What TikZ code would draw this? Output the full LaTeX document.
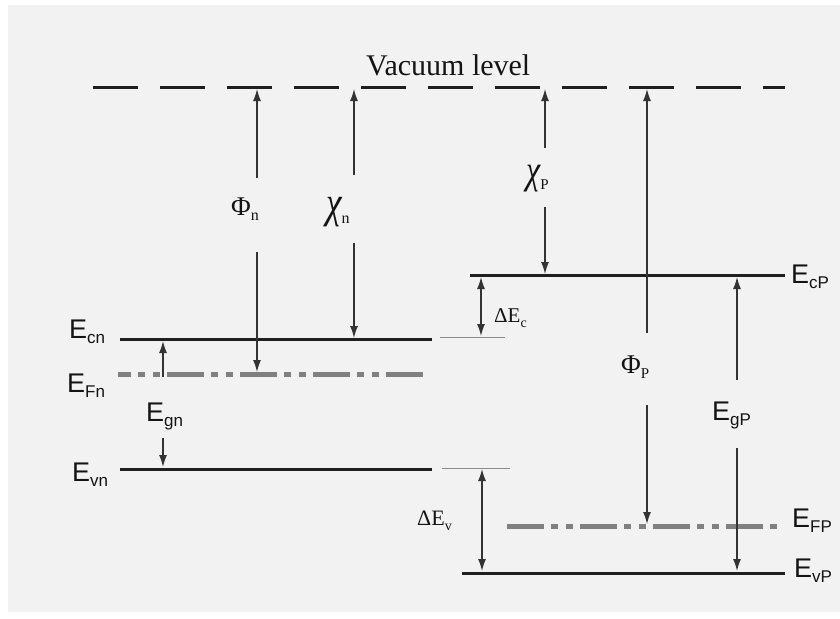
\documentclass[tikz,border=0pt]{standalone}
\usepackage{fontspec}
\setmainfont{Liberation Serif}
\newfontfamily\sansE{Liberation Sans}
\usetikzlibrary{arrows.meta}
\newcommand\Elab[1]{{\sansE\fontsize{27}{27}\selectfont E}\raisebox{-5pt}{\sansE\fontsize{17}{17}\selectfont #1}}
\newcommand\Glab[4]{{\fontsize{#1}{#1}\selectfont #2}\raisebox{-5pt}{\fontsize{#3}{#3}\selectfont #4}}
\newcommand\Chilab[3]{\scalebox{0.8}[1]{\fontsize{#1}{#1}\selectfont\itshape χ}\raisebox{-6pt}{\fontsize{#2}{#2}\selectfont #3}}
\begin{document}
\begin{tikzpicture}[x=1pt,y=-1pt,
  level/.style={line width=3pt, draw=black!88},
  fermi/.style={line width=5pt, draw=black!50, dash pattern=on 37pt off 7pt on 7pt off 8pt on 7pt off 7pt},
  ext/.style={line width=1pt, draw=black!45},
  arr/.style={line width=1.3pt, draw=black!80, -{Latex[length=12pt,width=8pt]}},
  darr/.style={line width=1.3pt, draw=black!80, {Latex[length=12pt,width=8pt]}-{Latex[length=12pt,width=8pt]}},
  lab/.style={inner sep=0pt, anchor=base west, text=black!92},
]
\useasboundingbox (0,0) rectangle (840,618);
\fill[white] (0,0) rectangle (840,618);
\fill[black!5] (8,5) rectangle (840,612);

% vacuum level
\coordinate (vacL) at (93,87);
\coordinate (vacR) at (785,87);
\draw[line width=3pt, draw=black!88, dash pattern=on 45pt off 22pt] (vacL) -- (vacR);
\node[lab] (vac) at (366,75) {\fontsize{30}{30}\selectfont Vacuum level};

% n side levels
\coordinate (EcnL) at (120,339); \coordinate (EcnR) at (432,339);
\coordinate (EcnxL) at (440,337); \coordinate (EcnxR) at (505,337);
\coordinate (EFnL) at (118,374); \coordinate (EFnR) at (430,374);
\coordinate (EvnL) at (120,469); \coordinate (EvnR) at (432,469);
\coordinate (EvnxL) at (442,468); \coordinate (EvnxR) at (510,468);
\draw[level] (EcnL) -- (EcnR);
\draw[ext] (EcnxL) -- (EcnxR);
\draw[fermi, dash phase=24pt] (EFnL) -- (EFnR);
\draw[level] (EvnL) -- (EvnR);
\draw[ext] (EvnxL) -- (EvnxR);

% p side levels
\coordinate (EcPL) at (470,275); \coordinate (EcPR) at (785,275);
\coordinate (EFPL) at (507,526); \coordinate (EFPR) at (782,526);
\coordinate (EvPL) at (462,573); \coordinate (EvPR) at (785,573);
\draw[level] (EcPL) -- (EcPR);
\draw[fermi] (EFPL) -- (EFPR);
\draw[level] (EvPL) -- (EvPR);

% E labels
\node[lab] (lEcn) at (69,338) {\Elab{cn}};
\node[lab] (lEFn) at (67,392) {\Elab{Fn}};
\node[lab] (lEgn) at (146,421) {\Elab{gn}};
\node[lab] (lEvn) at (72,481) {\Elab{vn}};
\node[lab] (lEcP) at (791,283) {\Elab{cP}};
\node[lab] (lEgP) at (712,420) {\Elab{gP}};
\node[lab] (lEFP) at (792,527) {\Elab{FP}};
\node[lab] (lEvP) at (794,577) {\Elab{vP}};

% Greek labels
\node[lab] (lPhin) at (231,215) {\Glab{27}{Φ}{16}{n}};
\node[lab] (lChin) at (326,217) {\Chilab{44}{16}{n}};
\node[lab] (lChiP) at (526,183) {\Chilab{40}{15}{P}};
\node[lab] (lPhiP) at (621,373) {\Glab{27}{Φ}{15}{P}};
\node[lab] (lDEc) at (494,322) {\Glab{21}{ΔE}{14}{c}};
\node[lab] (lDEv) at (417,525) {\Glab{22}{ΔE}{14}{v}};

% arrow end points
\coordinate (phinA) at (257,178); \coordinate (phinV) at (257,89);
\coordinate (phinB) at (257,252); \coordinate (phinF) at (257,372);
\coordinate (chinA) at (354,175); \coordinate (chinV) at (354,89);
\coordinate (chinB) at (354,243); \coordinate (chinC) at (354,338);
\coordinate (chiPA) at (545,148); \coordinate (chiPV) at (545,89);
\coordinate (chiPB) at (545,207); \coordinate (chiPC) at (545,274);
\coordinate (phiPA) at (647,333); \coordinate (phiPV) at (647,89);
\coordinate (phiPB) at (647,405); \coordinate (phiPF) at (647,524);
\coordinate (dEcT) at (481,277); \coordinate (dEcB) at (481,336);
\coordinate (egPA) at (737,380); \coordinate (egPC) at (737,277);
\coordinate (egPB) at (737,448); \coordinate (egPV) at (737,571);
\coordinate (dEvT) at (482,469); \coordinate (dEvB) at (482,571);
\coordinate (egnA) at (163,377); \coordinate (egnC) at (163,341);
\coordinate (egnB) at (163,438); \coordinate (egnV) at (163,467);

\draw[arr] (phinA) -- (phinV);
\draw[arr] (phinB) -- (phinF);
\draw[arr] (chinA) -- (chinV);
\draw[arr] (chinB) -- (chinC);
\draw[arr] (chiPA) -- (chiPV);
\draw[arr] (chiPB) -- (chiPC);
\draw[arr] (phiPA) -- (phiPV);
\draw[arr] (phiPB) -- (phiPF);
\draw[darr] (dEcT) -- (dEcB);
\draw[arr] (egPA) -- (egPC);
\draw[arr] (egPB) -- (egPV);
\draw[darr] (dEvT) -- (dEvB);
\draw[arr] (egnA) -- (egnC);
\draw[arr] (egnB) -- (egnV);
\end{tikzpicture}
\end{document}
